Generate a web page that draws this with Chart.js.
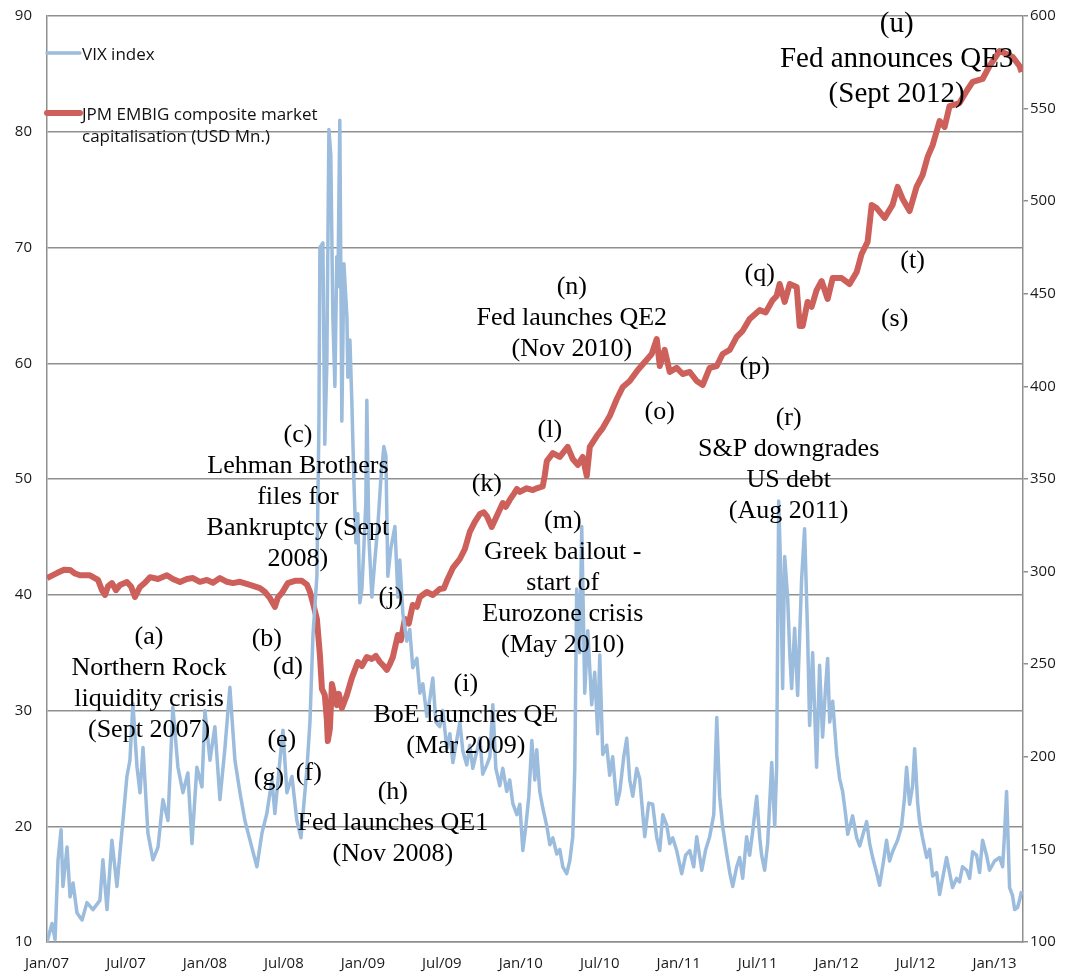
<!DOCTYPE html>
<html>
<head>
<meta charset="utf-8">
<script src="https://cdn.jsdelivr.net/npm/chart.js@4.4.1/dist/chart.umd.min.js"></script>
<style>
  html, body { margin: 0; padding: 0; background: #fff; }
  canvas { display: block; }
</style>
</head>
<body>
<canvas id="chart" width="1076" height="974"></canvas>
<script>
// Dates are decimal years (2007.5 = Jul 2007)
const xTickLabels = ['Jan/07', 'Jul/07', 'Jan/08', 'Jul/08', 'Jan/09', 'Jul/09', 'Jan/10',
                     'Jul/10', 'Jan/11', 'Jul/11', 'Jan/12', 'Jul/12', 'Jan/13'];

const vixDates = [
  2007.000, 2007.032, 2007.051, 2007.070, 2007.089, 2007.101, 2007.127, 2007.146, 2007.165, 2007.190,
  2007.222, 2007.253, 2007.291, 2007.335, 2007.354, 2007.380, 2007.411, 2007.443, 2007.462, 2007.481,
  2007.506, 2007.525, 2007.544, 2007.570, 2007.589, 2007.608, 2007.639, 2007.671, 2007.703, 2007.734,
  2007.766, 2007.797, 2007.829, 2007.861, 2007.892, 2007.918, 2007.949, 2007.981, 2008.000, 2008.032,
  2008.063, 2008.095, 2008.127, 2008.158, 2008.190, 2008.222, 2008.253, 2008.285, 2008.329, 2008.361,
  2008.392, 2008.424, 2008.443, 2008.475, 2008.494, 2008.519, 2008.551, 2008.582, 2008.608, 2008.646,
  2008.665, 2008.684, 2008.709, 2008.722, 2008.728, 2008.747, 2008.759, 2008.772, 2008.785, 2008.797,
  2008.810, 2008.823, 2008.835, 2008.842, 2008.854, 2008.867, 2008.880, 2008.899, 2008.905, 2008.918,
  2008.930, 2008.943, 2008.956, 2008.968, 2008.981, 2008.994, 2009.006, 2009.019, 2009.025, 2009.038,
  2009.057, 2009.076, 2009.095, 2009.114, 2009.133, 2009.146, 2009.158, 2009.177, 2009.203, 2009.222,
  2009.234, 2009.253, 2009.278, 2009.297, 2009.316, 2009.342, 2009.361, 2009.380, 2009.405, 2009.424,
  2009.443, 2009.462, 2009.487, 2009.506, 2009.532, 2009.551, 2009.570, 2009.595, 2009.614, 2009.633,
  2009.658, 2009.677, 2009.696, 2009.722, 2009.741, 2009.759, 2009.785, 2009.804, 2009.823, 2009.842,
  2009.867, 2009.886, 2009.911, 2009.930, 2009.949, 2009.975, 2009.994, 2010.013, 2010.032, 2010.051,
  2010.070, 2010.089, 2010.101, 2010.120, 2010.139, 2010.165, 2010.184, 2010.203, 2010.228, 2010.247,
  2010.266, 2010.291, 2010.310, 2010.329, 2010.342, 2010.354, 2010.373, 2010.386, 2010.405, 2010.424,
  2010.449, 2010.468, 2010.487, 2010.500, 2010.519, 2010.544, 2010.563, 2010.582, 2010.608, 2010.627,
  2010.652, 2010.671, 2010.690, 2010.709, 2010.734, 2010.753, 2010.785, 2010.810, 2010.835, 2010.861,
  2010.880, 2010.899, 2010.924, 2010.943, 2010.962, 2010.987, 2011.019, 2011.044, 2011.070, 2011.095,
  2011.114, 2011.146, 2011.171, 2011.196, 2011.222, 2011.241, 2011.259, 2011.278, 2011.304, 2011.323,
  2011.342, 2011.367, 2011.386, 2011.405, 2011.430, 2011.449, 2011.468, 2011.494, 2011.513, 2011.525,
  2011.544, 2011.563, 2011.589, 2011.608, 2011.620, 2011.633, 2011.646, 2011.658, 2011.671, 2011.690,
  2011.703, 2011.715, 2011.734, 2011.753, 2011.778, 2011.797, 2011.816, 2011.829, 2011.848, 2011.873,
  2011.892, 2011.911, 2011.930, 2011.943, 2011.956, 2011.975, 2012.000, 2012.019, 2012.038, 2012.057,
  2012.070, 2012.101, 2012.127, 2012.146, 2012.171, 2012.190, 2012.209, 2012.228, 2012.253, 2012.272,
  2012.297, 2012.316, 2012.335, 2012.354, 2012.386, 2012.411, 2012.430, 2012.443, 2012.462, 2012.481,
  2012.494, 2012.513, 2012.525, 2012.544, 2012.570, 2012.589, 2012.608, 2012.633, 2012.652, 2012.671,
  2012.696, 2012.715, 2012.734, 2012.759, 2012.778, 2012.797, 2012.823, 2012.842, 2012.861, 2012.886,
  2012.905, 2012.924, 2012.949, 2012.968, 2013.000, 2013.032, 2013.051, 2013.063, 2013.076, 2013.095,
  2013.114, 2013.127, 2013.146, 2013.158, 2013.171
];
const vixValues = [
  10.0, 11.6, 10.2, 17.1, 19.7, 14.8, 18.2, 13.9, 15.1, 12.5,
  11.9, 13.4, 12.8, 13.6, 17.1, 12.8, 18.8, 14.8, 17.7, 20.5,
  24.3, 25.7, 30.6, 25.1, 22.9, 26.8, 19.4, 17.1, 18.2, 22.3,
  20.5, 30.3, 25.1, 22.9, 24.6, 18.5, 25.1, 23.4, 30.0, 25.7,
  28.6, 22.3, 26.8, 32.0, 25.7, 22.9, 20.5, 18.8, 16.5, 19.4,
  21.1, 24.0, 21.1, 25.7, 28.3, 22.9, 24.3, 20.5, 19.0, 25.0,
  29.0, 36.5, 41.6, 55.0, 70.0, 70.4, 53.0, 60.0, 80.2, 78.0,
  64.0, 58.0, 69.2, 66.6, 81.0, 55.0, 68.6, 64.0, 58.8, 62.0,
  56.8, 50.0, 44.5, 47.0, 39.3, 40.5, 44.0, 48.0, 56.8, 45.0,
  39.8, 43.0, 46.0, 50.0, 52.8, 52.0, 41.6, 44.0, 45.9, 39.8,
  43.0, 38.4, 36.0, 37.0, 33.7, 34.5, 31.5, 32.3, 29.5, 31.0,
  32.8, 29.0, 28.6, 30.0, 26.7, 28.0, 25.5, 27.5, 29.0, 26.5,
  25.3, 27.0, 25.0, 26.5, 27.6, 24.5, 25.3, 26.0, 30.5, 25.0,
  23.5, 25.0, 23.0, 24.0, 22.0, 21.0, 21.9, 17.9, 20.0, 22.6,
  27.4, 24.0, 26.6, 23.0, 21.6, 20.0, 18.4, 19.0, 17.6, 18.0,
  16.5, 15.9, 17.0, 19.1, 25.0, 40.5, 35.0, 45.9, 31.5, 36.9,
  30.5, 33.3, 28.0, 34.8, 26.2, 27.0, 24.4, 26.0, 21.9, 23.0,
  26.0, 27.6, 24.0, 22.6, 25.0, 24.1, 19.1, 22.0, 21.9, 19.0,
  17.9, 21.0, 20.1, 18.5, 19.0, 17.9, 15.9, 17.5, 17.9, 16.5,
  19.1, 16.2, 18.0, 19.1, 21.0, 29.4, 22.6, 20.0, 17.6, 16.0,
  14.8, 16.5, 17.3, 15.5, 19.1, 17.5, 19.5, 22.6, 19.0, 17.5,
  16.2, 18.5, 25.5, 20.0, 25.0, 48.1, 42.0, 31.9, 43.3, 39.7,
  35.0, 31.9, 37.1, 31.3, 41.3, 45.7, 36.6, 28.7, 35.0, 25.1,
  33.9, 27.7, 32.0, 34.5, 29.0, 30.8, 26.2, 24.1, 23.0, 21.0,
  19.3, 20.9, 19.0, 18.3, 19.5, 20.4, 18.5, 17.3, 16.0, 14.9,
  17.0, 18.8, 17.0, 17.8, 18.8, 20.0, 22.5, 25.1, 21.9, 23.5,
  26.7, 22.0, 20.4, 19.0, 17.3, 18.0, 15.7, 16.0, 14.1, 15.5,
  17.3, 16.0, 14.7, 15.5, 15.2, 16.5, 16.2, 15.5, 17.8, 17.5,
  16.0, 18.8, 17.5, 16.2, 17.0, 17.3, 16.5, 19.3, 23.0, 14.7,
  14.0, 12.8, 13.0, 13.6, 14.4
];

const embiDates = [
  2007.000, 2007.063, 2007.108, 2007.146, 2007.177, 2007.209, 2007.272, 2007.323, 2007.348, 2007.367,
  2007.386, 2007.411, 2007.437, 2007.462, 2007.506, 2007.532, 2007.557, 2007.589, 2007.620, 2007.652,
  2007.703, 2007.759, 2007.797, 2007.842, 2007.886, 2007.924, 2007.968, 2008.013, 2008.051, 2008.095,
  2008.139, 2008.177, 2008.222, 2008.285, 2008.348, 2008.380, 2008.411, 2008.443, 2008.462, 2008.487,
  2008.525, 2008.570, 2008.614, 2008.646, 2008.665, 2008.684, 2008.709, 2008.728, 2008.741, 2008.759,
  2008.772, 2008.778, 2008.791, 2008.804, 2008.823, 2008.835, 2008.848, 2008.867, 2008.899, 2008.930,
  2008.968, 2008.994, 2009.025, 2009.057, 2009.082, 2009.108, 2009.133, 2009.152, 2009.171, 2009.190,
  2009.222, 2009.241, 2009.266, 2009.291, 2009.316, 2009.342, 2009.361, 2009.405, 2009.443, 2009.487,
  2009.513, 2009.532, 2009.570, 2009.614, 2009.646, 2009.677, 2009.709, 2009.741, 2009.766, 2009.785,
  2009.816, 2009.848, 2009.886, 2009.905, 2009.930, 2009.956, 2009.975, 2009.994, 2010.038, 2010.076,
  2010.101, 2010.139, 2010.152, 2010.165, 2010.203, 2010.247, 2010.297, 2010.329, 2010.361, 2010.392,
  2010.418, 2010.437, 2010.481, 2010.519, 2010.563, 2010.608, 2010.646, 2010.690, 2010.741, 2010.785,
  2010.829, 2010.861, 2010.880, 2010.911, 2010.943, 2010.987, 2011.025, 2011.070, 2011.114, 2011.152,
  2011.196, 2011.241, 2011.278, 2011.323, 2011.367, 2011.405, 2011.449, 2011.513, 2011.551, 2011.595,
  2011.620, 2011.639, 2011.671, 2011.703, 2011.747, 2011.766, 2011.785, 2011.816, 2011.842, 2011.873,
  2011.905, 2011.943, 2011.975, 2012.032, 2012.082, 2012.127, 2012.158, 2012.196, 2012.222, 2012.253,
  2012.304, 2012.354, 2012.386, 2012.418, 2012.462, 2012.506, 2012.544, 2012.576, 2012.608, 2012.652,
  2012.684, 2012.715, 2012.778, 2012.823, 2012.861, 2012.924, 2012.968, 2013.032, 2013.076, 2013.114,
  2013.158, 2013.171
];
const embiValues = [
  296.5, 299.2, 301.0, 300.9, 299.0, 298.0, 298.0, 295.5, 290.0, 287.4,
  292.0, 293.8, 290.0, 292.8, 294.4, 292.0, 286.3, 291.7, 294.0, 297.0,
  296.0, 298.0, 296.0, 294.4, 296.0, 296.5, 294.5, 295.5, 294.0, 296.5,
  294.5, 293.8, 294.5, 292.8, 291.1, 289.0, 285.8, 281.0, 286.0, 288.4,
  293.8, 295.0, 295.0, 293.0, 289.0, 283.0, 274.4, 255.0, 236.6, 233.4,
  220.0, 208.5, 215.0, 239.3, 232.0, 227.9, 234.0, 226.3, 233.4, 242.5,
  251.2, 249.0, 253.9, 252.8, 254.5, 251.2, 249.0, 246.9, 250.0, 253.9,
  265.8, 263.0, 274.4, 272.0, 282.0, 281.0, 286.3, 289.0, 287.4, 290.6,
  291.0, 295.0, 302.0, 306.8, 312.2, 321.4, 326.8, 331.1, 332.0, 330.0,
  324.1, 330.0, 337.0, 335.0, 338.7, 342.0, 344.6, 343.0, 345.0, 344.0,
  345.0, 346.0, 352.0, 359.7, 364.0, 361.9, 367.3, 360.8, 357.6, 361.9,
  351.6, 367.3, 373.2, 377.5, 384.0, 393.2, 399.7, 402.9, 408.9, 413.2,
  417.5, 425.6, 411.0, 419.7, 407.8, 410.0, 406.7, 407.8, 402.9, 400.8,
  410.0, 411.0, 417.5, 419.7, 426.7, 430.0, 436.4, 441.2, 440.0, 446.6,
  448.8, 455.3, 445.6, 455.3, 453.7, 432.6, 432.6, 445.6, 443.0, 452.0,
  456.9, 447.2, 458.5, 458.5, 455.3, 461.8, 471.5, 478.0, 498.0, 496.3,
  491.0, 498.0, 507.7, 501.2, 494.7, 507.7, 514.1, 523.9, 530.3, 543.3,
  540.1, 551.4, 553.0, 559.5, 564.4, 566.0, 573.0, 581.1, 579.5, 577.9,
  573.0, 569.8
];

// Event notes: position in (date, VIX level)
const notes = [
  { lines: ['(a)', 'Northern Rock', 'liquidity crisis', '(Sept 2007)'], date: 2007.646, level: 36.35 },
  { lines: ['(b)'], date: 2008.392, level: 36.18 },
  { lines: ['(d)'], date: 2008.525, level: 33.76 },
  { lines: ['(e)'], date: 2008.487, level: 27.45 },
  { lines: ['(g)'], date: 2008.405, level: 24.17 },
  { lines: ['(f)'], date: 2008.658, level: 24.60 },
  { lines: ['(c)', 'Lehman Brothers', 'files for', 'Bankruptcy (Sept', '2008)'], date: 2008.589, level: 53.80 },
  { lines: ['(j)'], date: 2009.177, level: 39.81 },
  { lines: ['(h)', 'Fed launches QE1', '(Nov 2008)'], date: 2009.190, level: 22.96 },
  { lines: ['(i)', 'BoE launches QE', '(Mar 2009)'], date: 2009.652, level: 32.29 },
  { lines: ['(k)'], date: 2009.785, level: 49.57 },
  { lines: ['(l)'], date: 2010.184, level: 54.23 },
  { lines: ['(m)', 'Greek bailout -', 'start of', 'Eurozone crisis', '(May 2010)'], date: 2010.266, level: 46.37 },
  { lines: ['(n)', 'Fed launches QE2', '(Nov 2010)'], date: 2010.323, level: 66.59 },
  { lines: ['(o)'], date: 2010.880, level: 55.79 },
  { lines: ['(p)'], date: 2011.481, level: 59.68 },
  { lines: ['(q)'], date: 2011.513, level: 67.71 },
  { lines: ['(r)', 'S&P downgrades', 'US debt', '(Aug 2011)'], date: 2011.696, level: 55.27 },
  { lines: ['(s)'], date: 2012.367, level: 63.82 },
  { lines: ['(t)'], date: 2012.481, level: 68.83 },
  { lines: ['(u)', 'Fed announces QE3', '(Sept 2012)'], date: 2012.380, level: 89.31, big: true }
];

const legendLines = [['VIX index'], ['JPM EMBIG composite market', 'capitalisation (USD Mn.)']];

const GRID = '#8f8f8f';
const TICK_FONT = { family: 'Open Sans', size: 15 };

const notePlugin = {
  id: 'notes',
  afterDatasetsDraw(chart) {
    const { ctx, scales } = chart;
    ctx.save();
    ctx.fillStyle = '#000';
    ctx.textAlign = 'center';
    ctx.textBaseline = 'middle';
    notes.forEach(n => {
      const size = n.big ? 29 : 26;
      const gap = n.big ? 35 : 31;
      ctx.font = size + 'px "Liberation Serif"';
      const x = scales.x.getPixelForValue(n.date);
      const y = scales.y.getPixelForValue(n.level);
      n.lines.forEach((t, i) => ctx.fillText(t, x, y + i * gap));
    });
    ctx.restore();
  }
};

const legendPlugin = {
  id: 'cornerLegend',
  afterDatasetsDraw(chart) {
    const { ctx, chartArea } = chart;
    const rows = [37, 97];
    ctx.save();
    ctx.font = '17px "Open Sans"';
    ctx.fillStyle = '#111';
    ctx.textBaseline = 'middle';
    ctx.textAlign = 'left';
    chart.data.datasets.forEach((ds, i) => {
      const y = chartArea.top + rows[i];
      ctx.strokeStyle = ds.borderColor;
      ctx.lineWidth = ds.borderWidth;
      ctx.lineCap = 'round';
      ctx.beginPath();
      ctx.moveTo(chartArea.left, y);
      ctx.lineTo(chartArea.left + 33, y);
      ctx.stroke();
      legendLines[i].forEach((t, k) => ctx.fillText(t, chartArea.left + 35, y + 2 + k * 22));
    });
    ctx.restore();
  }
};

new Chart(document.getElementById('chart'), {
  type: 'line',
  data: {
    datasets: [
      {
        label: 'VIX index',
        data: vixDates.map((d, i) => ({ x: d, y: vixValues[i] })),
        yAxisID: 'y',
        borderColor: '#9bbcdd',
        borderWidth: 3.5,
        pointRadius: 0,
        tension: 0,
        borderJoinStyle: 'round'
      },
      {
        label: 'JPM EMBIG composite market capitalisation (USD Mn.)',
        data: embiDates.map((d, i) => ({ x: d, y: embiValues[i] })),
        yAxisID: 'y1',
        borderColor: '#cd605b',
        borderWidth: 6,
        pointRadius: 0,
        tension: 0,
        borderJoinStyle: 'round'
      }
    ]
  },
  options: {
    responsive: false,
    animation: false,
    layout: { padding: { top: 16, left: 0, right: 0, bottom: 0 } },
    plugins: {
      legend: { display: false },
      tooltip: { enabled: false }
    },
    scales: {
      x: {
        type: 'linear',
        min: 2007,
        max: 2013.18,
        grid: { display: false, drawTicks: false },
        border: { display: true, color: GRID, width: 1.5 },
        ticks: {
          stepSize: 0.5,
          includeBounds: false,
          autoSkip: false,
          maxRotation: 0,
          padding: 13,
          color: '#1a1a1a',
          font: TICK_FONT,
          callback: v => {
            const k = Math.round((v - 2007) * 2);
            return Math.abs((v - 2007) * 2 - k) < 0.01 && xTickLabels[k] ? xTickLabels[k] : '';
          }
        },
        afterFit: s => { s.height = 32; }
      },
      y: {
        position: 'left',
        min: 10,
        max: 90,
        // invisible tick marks keep the labels off the axis without extra top padding
        grid: { color: GRID, lineWidth: 1.5, drawTicks: true, tickLength: 13, tickColor: 'rgba(0,0,0,0)' },
        border: { display: true, color: GRID, width: 1.5 },
        ticks: { stepSize: 10, padding: 2, color: '#1a1a1a', font: TICK_FONT },
        afterFit: s => { s.width = 47; }
      },
      y1: {
        position: 'right',
        min: 100,
        max: 600,
        grid: { drawOnChartArea: false, drawTicks: true, tickLength: 5, color: GRID, lineWidth: 1.5 },
        border: { display: true, color: GRID, width: 1.5 },
        ticks: { stepSize: 50, padding: 2, color: '#1a1a1a', font: TICK_FONT },
        afterFit: s => { s.width = 53; }
      }
    }
  },
  plugins: [notePlugin, legendPlugin]
});
</script>
</body>
</html>
